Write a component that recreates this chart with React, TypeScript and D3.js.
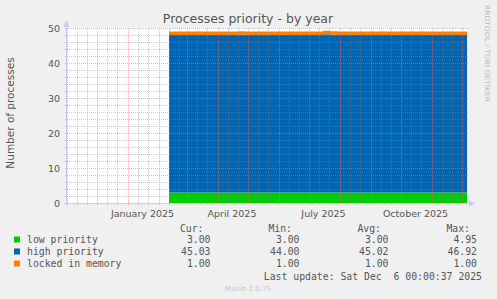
import React from "react";
import * as d3 from "d3";

const W = 497;
const H = 299;

const dates = [
  "2025-02-11","2025-02-18","2025-02-25","2025-03-04","2025-03-11","2025-03-18","2025-03-25",
  "2025-04-01","2025-04-08","2025-04-15","2025-04-22","2025-04-29","2025-05-06","2025-05-13",
  "2025-05-20","2025-05-27","2025-06-03","2025-06-10","2025-06-17","2025-06-24","2025-07-01",
  "2025-07-08","2025-07-15","2025-07-22","2025-07-29","2025-08-05","2025-08-12","2025-08-19",
  "2025-08-26","2025-09-02","2025-09-09","2025-09-16","2025-09-23","2025-09-30","2025-10-07",
  "2025-10-14","2025-10-21","2025-10-28","2025-11-04","2025-11-11","2025-11-18","2025-11-25",
  "2025-12-02","2025-12-06",
];
const lowPriority = [
  3.0,3.0,3.0,3.0,3.0,3.0,3.0,3.0,3.0,3.0,3.0,3.0,3.0,3.0,3.0,3.0,3.0,3.0,3.0,3.0,3.0,3.0,
  3.0,3.0,3.0,3.0,3.0,3.0,3.0,3.0,3.0,3.0,3.0,3.0,3.0,3.0,3.0,3.0,3.0,3.0,3.0,3.0,3.0,3.0,
];
const highPriority = [
  45.0,45.0,45.0,45.0,45.0,45.0,45.0,45.0,45.0,45.0,45.1,45.0,45.0,45.0,45.0,45.0,45.0,45.0,
  45.0,45.0,45.0,45.0,45.2,45.1,45.0,45.0,45.0,45.0,45.0,45.0,45.0,45.0,45.0,45.0,45.0,45.0,
  45.0,45.0,45.0,45.0,45.0,45.0,45.0,45.0,
];
const lockedInMemory = [
  1.0,1.0,1.0,1.0,1.0,1.0,1.0,1.0,1.0,1.0,1.0,1.0,1.0,1.0,1.0,1.0,1.0,1.0,1.0,1.0,1.0,1.0,
  1.0,1.0,1.0,1.0,1.0,1.0,1.0,1.0,1.0,1.0,1.0,1.0,1.0,1.0,1.0,1.0,1.0,1.0,1.0,1.0,1.0,1.0,
];

const seriesNames = ["low priority", "high priority", "locked in memory"];
const seriesColors = ["#00CC00", "#0066B3", "#FF8000"];
const curVals = ["3.00", "45.03", "1.00"];
const minVals = ["3.00", "44.00", "1.00"];
const avgVals = ["3.00", "45.02", "1.00"];
const maxVals = ["4.95", "46.92", "1.00"];
const yTicks = [0, 10, 20, 30, 40, 50];
const monthLabels = ["January 2025", "April 2025", "July 2025", "October 2025"];
const labelMonths = ["2025-01-01", "2025-04-01", "2025-07-01", "2025-10-01"];
const startDate = "2024-11-01";
const endDate = "2025-12-06";

const SANS = "DejaVu Sans, sans-serif";
const MONO = "DejaVu Sans Mono, monospace";

export default function App() {
  const parse = d3.utcParse("%Y-%m-%d");
  const x = d3.scaleUtc().domain([parse(startDate)!, parse(endDate)!]).range([67, 467]);
  const y = d3.scaleLinear().domain([0, 50]).range([203, 28]);

  const rows = dates.map((d, i) => ({
    date: parse(d)!,
    low: lowPriority[i],
    high: highPriority[i],
    locked: lockedInMemory[i],
  }));
  const stack = d3.stack<any>().keys(["low", "high", "locked"]);
  const layers = stack(rows);
  const area = d3
    .area<any>()
    .x((d) => x(d.data.date))
    .y0((d) => y(d[0]))
    .y1((d) => y(d[1]))
    .curve(d3.curveStepAfter);

  const [d0, d1] = x.domain();
  const months = d3.utcMonth.range(d3.utcMonth.ceil(d0), d1);
  const minorDays = d3.utcDay.range(d0, d1).filter((d) => d.getUTCDate() === 11 || d.getUTCDate() === 21);
  const minorY = d3.range(0, 51, 2).filter((v) => v % 10 !== 0);

  const minorColor = "rgba(140,140,140,0.45)";
  const majorColor = "rgba(225,120,120,0.55)";
  const axisColor = "#C8CCF4";
  const textColor = "#555";

  return (
    <svg width={W} height={H} style={{ position: "absolute", left: 0, top: 0, background: "#F0F0F0" }}>
      <rect x={0} y={0} width={W} height={H} fill="#F0F0F0" />
      <rect x={67} y={28} width={400} height={175} fill="#FFFFFF" />
      {layers.map((layer, i) => (
        <path key={i} d={area(layer as any) || ""} fill={seriesColors[i]} />
      ))}
      {/* minor grid */}
      {minorY.map((v) => (
        <line key={"my" + v} x1={65} x2={469} y1={Math.round(y(v)) + 0.5} y2={Math.round(y(v)) + 0.5}
          stroke={minorColor} strokeDasharray="1,1" />
      ))}
      {minorDays.map((d, i) => (
        <line key={"mx" + i} x1={Math.round(x(d)) + 0.5} x2={Math.round(x(d)) + 0.5} y1={28} y2={205}
          stroke={minorColor} strokeDasharray="1,1" />
      ))}
      {/* major grid */}
      {yTicks.map((v) => (
        <line key={"My" + v} x1={65} x2={469} y1={Math.round(y(v)) + 0.5} y2={Math.round(y(v)) + 0.5}
          stroke={majorColor} strokeDasharray="1,1" />
      ))}
      {months.map((d, i) => (
        <line key={"Mx" + i} x1={Math.round(x(d)) + 0.5} x2={Math.round(x(d)) + 0.5} y1={28} y2={206}
          stroke={majorColor} strokeDasharray="1,1" />
      ))}
      {/* axes */}
      <line x1={66.5} x2={66.5} y1={26} y2={206} stroke={axisColor} />
      <line x1={64} x2={470} y1={203.5} y2={203.5} stroke={axisColor} />
      <path d="M63.5,27 L69.5,27 L66.5,20 Z" fill={axisColor} />
      <path d="M469,200.5 L469,206.5 L475,203.5 Z" fill={axisColor} />
      {/* y tick labels */}
      {yTicks.map((v) => (
        <text key={"yl" + v} x={60} y={y(v) + 3.5} textAnchor="end" fontFamily={SANS} fontSize={9.5} fill={textColor}>
          {v}
        </text>
      ))}
      {/* x labels */}
      {labelMonths.map((m, i) => {
        const a = parse(m)!;
        const b = d3.utcMonth.offset(a, 1);
        const cx = (x(a) + x(b)) / 2 - 1;
        return (
          <text key={"xl" + i} x={cx} y={216.5} textAnchor="middle" fontFamily={SANS} fontSize={9.5} fill={textColor}>
            {monthLabels[i]}
          </text>
        );
      })}
      {/* title */}
      <text x={248} y={23} textAnchor="middle" fontFamily={SANS} fontSize={12.5} fill="#555">
        Processes priority - by year
      </text>
      {/* y axis title */}
      <text transform="translate(14,113) rotate(-90)" textAnchor="middle" fontFamily={SANS} fontSize={10.5} fill={textColor}>
        Number of processes
      </text>
      {/* watermark */}
      <text transform="translate(485,5) rotate(90)" textAnchor="start" fontFamily={SANS} fontSize={6.8} fill="#BBBBBB"
        textLength={97} lengthAdjust="spacingAndGlyphs">
        RRDTOOL / TOBI OETIKER
      </text>
      {/* legend */}
      <g fontFamily={MONO} fontSize={9.8} fill={textColor}>
        <text x={203.5} y={231.5} textAnchor="end">Cur:</text>
        <text x={292} y={231.5} textAnchor="end">Min:</text>
        <text x={381} y={231.5} textAnchor="end">Avg:</text>
        <text x={470} y={231.5} textAnchor="end">Max:</text>
        {seriesNames.map((n, i) => {
          const yy = 243 + i * 12;
          return (
            <g key={n}>
              <rect x={14} y={yy - 6.5} width={6} height={6} fill={seriesColors[i]} />
              <text x={27} y={yy}>{n}</text>
              <text x={210.5} y={yy} textAnchor="end">{curVals[i]}</text>
              <text x={299.5} y={yy} textAnchor="end">{minVals[i]}</text>
              <text x={388.5} y={yy} textAnchor="end">{avgVals[i]}</text>
              <text x={477} y={yy} textAnchor="end">{maxVals[i]}</text>
            </g>
          );
        })}
        <text x={482} y={279.5} textAnchor="end" xmlSpace="preserve" style={{ whiteSpace: "pre" }}>
          {"Last update: Sat Dec  6 00:00:37 2025"}
        </text>
      </g>
      <text x={248} y={290.5} textAnchor="middle" fontFamily={SANS} fontSize={7} fill="#C4C4C4">
        Munin 2.0.75
      </text>
    </svg>
  );
}
